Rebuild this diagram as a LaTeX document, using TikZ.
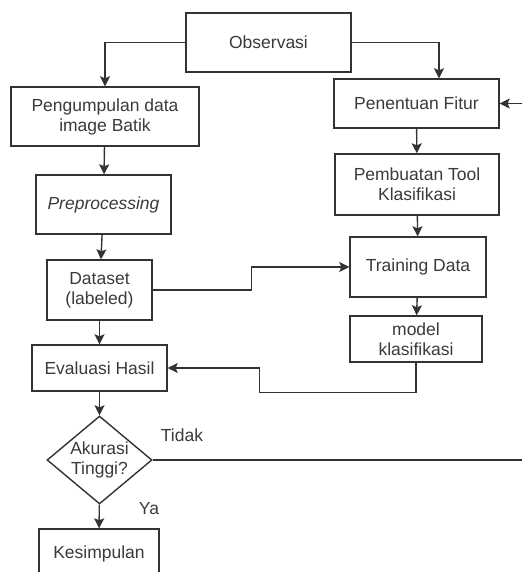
\documentclass[tikz,border=0pt]{standalone}
\usepackage{fontspec}
\setmainfont{Liberation Sans}
\usetikzlibrary{arrows.meta,shapes.geometric,calc}
\definecolor{ink}{HTML}{3A3A3A}
\definecolor{edge}{HTML}{333333}
\begin{document}
\begin{tikzpicture}[x=1pt,y=-1pt,
  box/.style={draw=edge,line width=1.4pt,rectangle,inner sep=0pt,align=center,
    text=ink,font=\fontsize{17.5}{20}\selectfont},
  decision/.style={box,diamond,aspect=1.19,minimum width=105pt,minimum height=88pt},
  flow/.style={draw=edge,line width=1.4pt,-{Stealth[length=10pt,width=10pt,inset=2pt]}},
  plain/.style={draw=edge,line width=1.4pt},
  lbl/.style={text=ink,font=\fontsize{17.5}{20}\selectfont,inner sep=0pt}]
\useasboundingbox (0,0) rectangle (522,572);

% left column
\node[box,minimum width=165pt,minimum height=59pt] (obs) at (268.5,42.5) {Observasi};
\node[box,minimum width=188pt,minimum height=59pt] (peng) at (105,116.5) {Pengumpulan data\\image Batik};
\node[box,minimum width=135pt,minimum height=59pt] (pre) at (103.5,204.5) {\textit{Preprocessing}};
\node[box,minimum width=105pt,minimum height=60pt] (data) at (99.5,290) {Dataset\\(labeled)};
\node[box,minimum width=135pt,minimum height=46pt] (eval) at (99.5,368) {Evaluasi Hasil};
\node[decision] (acc) at (99.5,460) {Akurasi\\Tinggi?};
\node[box,minimum width=120pt,minimum height=49pt] (kes) at (99,553.5) {Kesimpulan};

% right column
\node[box,minimum width=165pt,minimum height=49pt] (fit) at (416.5,103.5) {Penentuan Fitur};
\node[box,minimum width=164pt,minimum height=61pt] (tool) at (417,184.5) {Pembuatan Tool\\Klasifikasi};
\node[box,minimum width=136pt,minimum height=60pt] (train) at (418,267) {Training Data};
\node[box,minimum width=132pt,minimum height=46pt] (model) at (416,339) {model\\klasifikasi};

% free ends at the right edge
\coordinate (loopout) at (522,460);
\coordinate (loopin) at (522,103.5);

% labels on the decision
\node[lbl] (tidak) at (182,435) {Tidak};
\node[lbl] (ya) at (149,509) {Ya};

% connectors
\draw[flow] (obs.west) -| (peng.north);
\draw[flow] (obs.east) -| ([xshift=22.5pt]fit.north);
\draw[flow] (peng) -- (pre);
\draw[flow] (pre) -- (data);
\draw[flow] (data) -- (eval);
\draw[flow] (eval) -- (acc);
\draw[flow] (acc) -- (kes);
\draw[flow] (fit) -- (tool);
\draw[flow] (tool) -- (train);
\draw[flow] (train) -- (model);
\draw[flow] (data.east) -- ++(99,0) |- (train.west);
\draw[flow] (model.south) -- ++(0,30) -| ([xshift=92pt]eval.east) -- (eval.east);
\draw[plain] (acc.east) -- (loopout);
\draw[flow] (loopin) -- (fit.east);
\end{tikzpicture}
\end{document}
